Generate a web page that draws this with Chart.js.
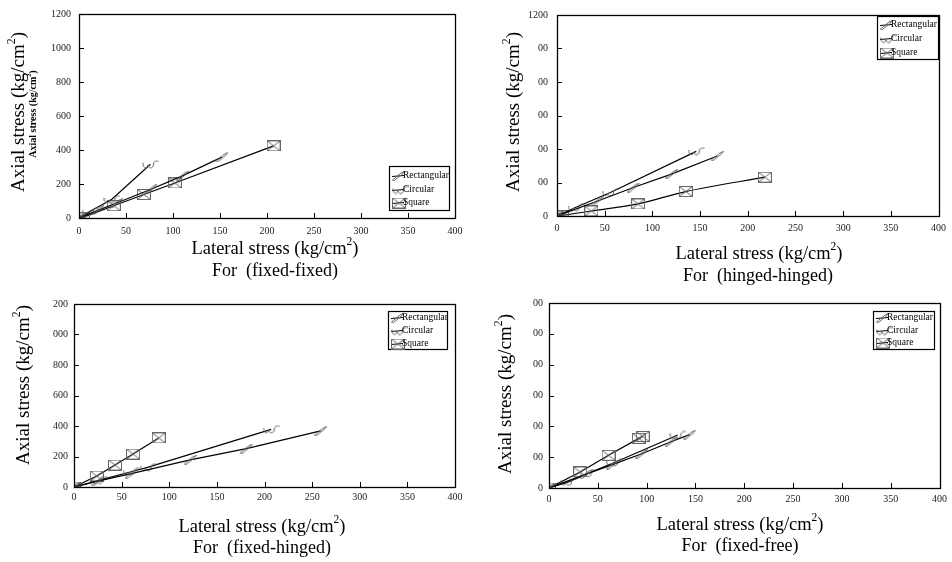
<!DOCTYPE html>
<html><head><meta charset="utf-8">
<script src="https://cdn.jsdelivr.net/npm/chart.js@4.4.0/dist/chart.umd.min.js"></script>
<style>
html,body{margin:0;padding:0;background:#fff;}
body{width:952px;height:562px;position:relative;overflow:hidden;}
canvas{position:absolute;}
</style></head><body>
<canvas id="c1" style="left:0;top:0" width="476" height="281"></canvas>
<canvas id="c2" style="left:476px;top:0" width="476" height="290"></canvas>
<canvas id="c3" style="left:0;top:281px" width="476" height="281"></canvas>
<canvas id="c4" style="left:476px;top:281px" width="476" height="281"></canvas>
<script>
// ---------- data ----------
const seriesNames = ['Rectangular', 'Circular', 'Square'];
const xTicks = [0, 50, 100, 150, 200, 250, 300, 350, 400];
const xTickLabels = ['0', '50', '100', '150', '200', '250', '300', '350', '400'];
const yTicks = [0, 200, 400, 600, 800, 1000, 1200];
const yTickLabels1 = ['0', '200', '400', '600', '800', '1000', '1200'];
const yTickLabels2 = ['0', '00', '00', '00', '00', '00', '1200'];
const yTickLabels3 = ['0', '200', '400', '600', '800', '000', '200'];
const yTickLabels4 = ['0', '00', '00', '00', '00', '00', '00'];

// fixed-fixed  [lateral, axial]
const ffRect = [[0,0],[20,45],[40,88],[76,168],[110,248],[152,358]];
const ffCirc = [[0,0],[12,40],[35,110],[76,316]];
const ffSq   = [[0,0],[4,4],[37,72],[69,138],[102,206],[207,424]];
// hinged-hinged
const hhRect = [[0,0],[42,88],[80,170],[120,250],[168,358]];
const hhCirc = [[0,0],[20,52],[56,140],[146,386]];
const hhSq   = [[0,0],[5,3],[36,30],[85,72],[135,146],[218,232]];
// fixed-hinged
const fhRect = [[0,0],[25,38],[60,88],[122,178],[181,252],[259,368]];
const fhCirc = [[0,0],[27,45],[60,100],[78,130],[207,378]];
const fhSq   = [[0,0],[24,72],[43,144],[62,216],[89,322]];
// fixed-free
const fzRect = [[0,0],[38,90],[65,152],[95,222],[125,300],[144,346]];
const fzCirc = [[0,0],[20,40],[40,95],[67,165],[132,344]];
const fzSq   = [[0,0],[32,104],[61,212],[92,322],[96,334]];

// ---------- markers ----------
function mk(w, h, draw) {
  const c = document.createElement('canvas'); c.width = w; c.height = h;
  const g = c.getContext('2d'); g.strokeStyle = '#666'; g.lineWidth = 1; draw(g); return c;
}
const mRect = mk(13, 10, g => {
  g.beginPath();
  g.moveTo(0.5, 9); g.lineTo(9, 2);
  g.moveTo(2.5, 9.5); g.lineTo(11, 2.5);
  g.moveTo(9, 2); g.lineTo(12.5, 0.5); g.lineTo(11, 2.5);
  g.moveTo(0.5, 9); g.lineTo(2.5, 9.5);
  g.stroke();
});
const mCirc = mk(17, 9, g => {
  g.beginPath();
  g.moveTo(1, 3);
  g.bezierCurveTo(0, 9, 6, 9, 6, 5);
  g.bezierCurveTo(6, 9, 12, 9, 11.5, 4);
  g.bezierCurveTo(12, 1, 15, 0.5, 16.5, 1.5);
  g.stroke();
});
const mSq = mk(14, 11, g => {
  g.strokeRect(0.5, 0.5, 13, 10);
  g.beginPath();
  g.moveTo(0.5, 0.5); g.lineTo(13.5, 10.5);
  g.moveTo(13.5, 0.5); g.lineTo(0.5, 10.5);
  g.stroke();
});
const markers = [mRect, mCirc, mSq];

// ---------- helpers ----------
function supText(ctx, parts, cx, cy, size, rot, bold) {
  ctx.save(); ctx.translate(cx, cy); if (rot) ctx.rotate(-Math.PI / 2);
  const f = s => (bold ? 'bold ' : '') + s + 'px "Liberation Serif"';
  let total = 0;
  parts.forEach(p => { ctx.font = f(p[1] ? size * 0.62 : size); total += ctx.measureText(p[0]).width; });
  let x = -total / 2; ctx.textBaseline = 'middle'; ctx.textAlign = 'left'; ctx.fillStyle = '#000';
  parts.forEach(p => {
    ctx.font = f(p[1] ? size * 0.62 : size);
    ctx.fillText(p[0], x, p[1] ? -size * 0.38 : 0);
    x += ctx.measureText(p[0]).width;
  });
  ctx.restore();
}
const yTitleParts = [['Axial stress (kg/cm', false], ['2', true], [')', false]];
const xTitleParts = [['Lateral stress (kg/cm', false], ['2', true], [')', false]];

function makeChart(id, series, cfg) {
  const decor = {
    id: 'decor' + id,
    afterDraw(chart) {
      const ctx = chart.ctx, a = chart.chartArea;
      const xs = chart.scales.x, ys = chart.scales.y;
      ctx.save();
      ctx.strokeStyle = '#000'; ctx.lineWidth = 1.3;
      ctx.strokeRect(Math.round(a.left) + 0.5, Math.round(a.top) + 0.5, Math.round(a.right - a.left), Math.round(a.bottom - a.top));
      ctx.lineWidth = 1; ctx.beginPath();
      xTicks.forEach(v => { const px = Math.round(xs.getPixelForValue(v)) + 0.5; ctx.moveTo(px, a.bottom); ctx.lineTo(px, a.bottom - 5); });
      yTicks.forEach(v => { const py = Math.round(ys.getPixelForValue(v)) + 0.5; ctx.moveTo(a.left, py); ctx.lineTo(a.left + 5, py); });
      ctx.stroke();
      // legend
      const L = cfg.legend;
      ctx.fillStyle = '#fff'; ctx.fillRect(L.x, L.y, L.w, L.h);
      ctx.strokeStyle = '#000'; ctx.lineWidth = 1.2; ctx.strokeRect(L.x + 0.5, L.y + 0.5, L.w, L.h);
      chart.data.datasets.forEach((d, i) => {
        const yy = L.rows[i];
        ctx.strokeStyle = '#000'; ctx.lineWidth = 1;
        ctx.beginPath(); ctx.moveTo(L.x + 3, yy + 1.5); ctx.lineTo(L.x + 15, yy + 0.5); ctx.stroke();
        const m = markers[i];
        ctx.drawImage(m, L.x + 3, yy - m.height / 2 + 1);
        ctx.fillStyle = '#000'; ctx.font = '9.5px "Liberation Serif"';
        ctx.textAlign = 'left'; ctx.textBaseline = 'middle';
        ctx.fillText(d.label, L.x + 14, yy);
      });
      // titles
      supText(ctx, yTitleParts, cfg.yt[0], cfg.yt[1], 19, true);
      if (cfg.yt2) supText(ctx, yTitleParts, cfg.yt2[0], cfg.yt2[1], 10, true, true);
      supText(ctx, xTitleParts, cfg.xt[0], cfg.xt[1], 18.5, false);
      supText(ctx, [[cfg.caption, false]], cfg.xt2[0], cfg.xt2[1], 18, false);
      ctx.restore();
    }
  };
  return new Chart(document.getElementById(id), {
    type: 'scatter',
    data: {
      datasets: series.map((s, i) => ({
        label: seriesNames[i],
        data: s.map(p => ({ x: p[0], y: p[1] })),
        showLine: true, borderColor: '#000', borderWidth: 1.2,
        pointStyle: markers[i], pointRadius: 5, pointHoverRadius: 5,
        tension: cfg.tension ? cfg.tension[i] : 0, fill: false
      }))
    },
    options: {
      responsive: false, animation: false, devicePixelRatio: 1,
      layout: { padding: { left: 0, right: cfg.pr, top: cfg.pt, bottom: 0 } },
      plugins: { legend: { display: false }, tooltip: { enabled: false } },
      scales: {
        x: {
          type: 'linear', min: 0, max: 400,
          afterBuildTicks: s => { s.ticks = xTicks.map(v => ({ value: v })); },
          afterFit: s => { s.height = cfg.xh; },
          ticks: { callback: (v, i) => xTickLabels[i], autoSkip: false, maxRotation: 0, padding: cfg.xp,
                   font: { family: 'Liberation Serif', size: 10 }, color: '#222' },
          grid: { display: false, drawTicks: false }, border: { display: false }
        },
        y: {
          type: 'linear', min: 0, max: 1200,
          afterBuildTicks: s => { s.ticks = yTicks.map(v => ({ value: v })); },
          afterFit: s => { s.width = cfg.yw; },
          ticks: { callback: (v, i) => cfg.yLabels[i], autoSkip: false, padding: cfg.yp,
                   font: { family: 'Liberation Serif', size: 10 }, color: '#222' },
          grid: { display: false, drawTicks: false }, border: { display: false }
        }
      }
    },
    plugins: [decor]
  });
}

makeChart('c1', [ffRect, ffCirc, ffSq], {
  pr: 21, pt: 7, xh: 63, yw: 79, xp: 7, yp: 8, yLabels: yTickLabels1,
  legend: { x: 389, y: 166, w: 60, h: 44, rows: [175, 189, 202] },
  yt: [19, 112], yt2: [33, 114], xt: [275, 249], xt2: [275, 271], caption: 'For  (fixed-fixed)'
});
makeChart('c2', [hhRect, hhCirc, hhSq], {
  pr: 8, pt: 7, xh: 74, yw: 81, xp: 6, yp: 9, yLabels: yTickLabels2, tension: [0, 0, 0.3],
  legend: { x: 401, y: 16, w: 61, h: 43, rows: [24, 38, 52] },
  yt: [38, 112], xt: [283, 254], xt2: [282, 276], caption: 'For  (hinged-hinged)'
});
makeChart('c3', [fhRect, fhCirc, fhSq], {
  pr: 21, pt: 23, xh: 75, yw: 74, xp: 4, yp: 6, yLabels: yTickLabels3,
  legend: { x: 388, y: 30, w: 59, h: 38, rows: [36, 49, 62] },
  yt: [24, 104], xt: [262, 246], xt2: [262, 267], caption: 'For  (fixed-hinged)'
});
makeChart('c4', [fzRect, fzCirc, fzSq], {
  pr: 9, pt: 22, xh: 74, yw: 73, xp: 5, yp: 6, yLabels: yTickLabels4,
  legend: { x: 397, y: 30, w: 61, h: 38, rows: [36, 49, 61] },
  yt: [30, 113], xt: [264, 244], xt2: [264, 265], caption: 'For  (fixed-free)'
});
</script>
</body></html>
